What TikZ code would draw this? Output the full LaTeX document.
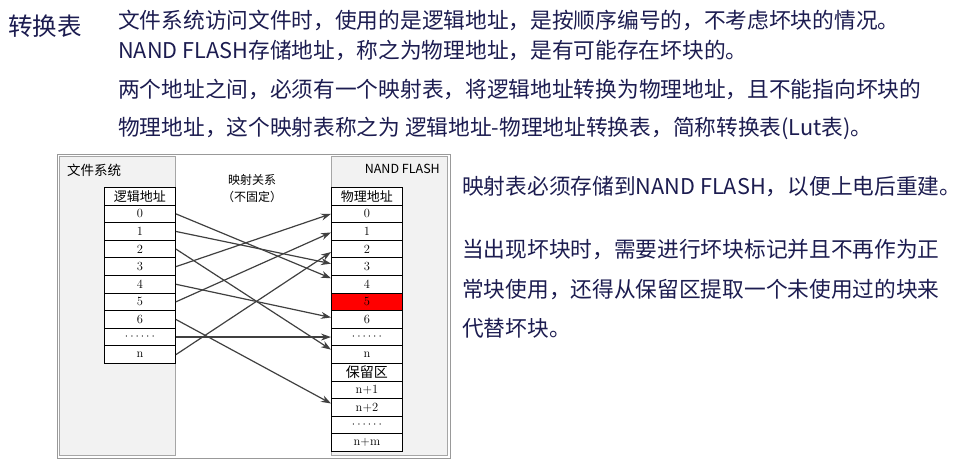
\documentclass[tikz,border=0pt]{standalone}
\usepackage{fontspec}
\newfontfamily\cjk{Noto Sans CJK SC}
\usetikzlibrary{arrows.meta}
\definecolor{navy}{HTML}{1C1C50}
\tikzset{
  cell/.style={draw=black, line width=0.9pt, fill=white, minimum width=71pt, minimum height=17.6pt, inner sep=0pt, font=\fontsize{12.5}{13}\selectfont, anchor=north west},
  panel/.style={draw=gray!70, fill=gray!10, line width=0.6pt},
  txt/.style={anchor=west, inner sep=0pt, text=navy, font=\cjk\fontsize{21.7}{23}\selectfont},
  map/.style={draw=black!75, line width=1.2pt, -{Stealth[length=10pt,width=7pt]}}
}
\begin{document}
\begin{tikzpicture}[x=1pt,y=-1pt]
\useasboundingbox (0,0) rectangle (960,469);
\node[txt, font=\cjk\fontsize{24.5}{26}\selectfont] (title) at (8,26) {转换表};
\node[txt] (l1) at (118,20) {文件系统访问文件时，使用的是逻辑地址，是按顺序编号的，不考虑坏块的情况。};
\node[txt] (l2) at (118,50) {NAND FLASH存储地址，称之为物理地址，是有可能存在坏块的。};
\node[txt] (l3) at (118,89) {两个地址之间，必须有一个映射表，将逻辑地址转换为物理地址，且不能指向坏块的};
\node[txt] (l4) at (118,128) {物理地址，这个映射表称之为 逻辑地址-物理地址转换表，简称转换表(Lut表)。};
\node[txt] (r1) at (462,187) {映射表必须存储到NAND FLASH，以便上电后重建。};
\node[txt] (r2) at (462,250) {当出现坏块时，需要进行坏块标记并且不再作为正};
\node[txt] (r3) at (462,289) {常块使用，还得从保留区提取一个未使用过的块来};
\node[txt] (r4) at (462,328) {代替坏块。};
% frame
\draw[gray!80, line width=0.8pt] (57,154) rectangle (450,458);
\draw[panel] (59,156) rectangle (175,455);
\draw[panel] (331,156) rectangle (447,455);
\node[anchor=west, inner sep=0pt, font=\cjk\fontsize{13.5}{14}\selectfont] (fs) at (67,170) {文件系统};
\node[anchor=east, inner sep=0pt, font=\cjk\fontsize{12.5}{13}\selectfont] (nf) at (440,169) {NAND FLASH};
\node[align=center, inner sep=0pt, font=\cjk\fontsize{12}{17}\selectfont] (mp) at (252,189) {映射关系\\（不固定）};
% left table
\node[cell, font=\cjk\fontsize{13}{13}\selectfont] (Lh) at (104,187) {逻辑地址};
\foreach \t [count=\i from 0] in {0,1,2,3,4,5,6,\textbf{$\cdots\cdots$},n}{
  \node[cell] (L\i) at (104,{204.6+17.6*\i}) {\t};
}
% right table
\node[cell, font=\cjk\fontsize{13}{13}\selectfont] (Rh) at (331,187) {物理地址};
\foreach \t [count=\i from 0] in {0,1,2,3,4,5,6,\textbf{$\cdots\cdots$},n,{\cjk\fontsize{14}{14}\selectfont 保留区},n+1,n+2,\textbf{$\cdots\cdots$},n+m}{
  \node[cell] (R\i) at (331,{204.6+17.6*\i}) {\t};
}
\node[cell, fill=red] at (R5.north west) {5};
% mappings
\draw[map] (L0.east) -- ([yshift=6pt]R4.west);
\draw[map] (L1.east) -- ([yshift=3pt]R3.west);
\draw[map] (L2.east) -- ([yshift=5pt]R8.west);
\draw[map] (L3.east) -- (R0.west);
\draw[map] (L4.east) -- ([yshift=2pt]R6.west);
\draw[map] (L5.east) -- ([yshift=-1pt]R1.west);
\draw[map] (L6.east) -- ([yshift=4pt]R11.west);
\draw[map] (L7.east) -- (R7.west);
\draw[map] (L8.east) -- ([yshift=-3pt]R2.west);
\end{tikzpicture}
\end{document}
